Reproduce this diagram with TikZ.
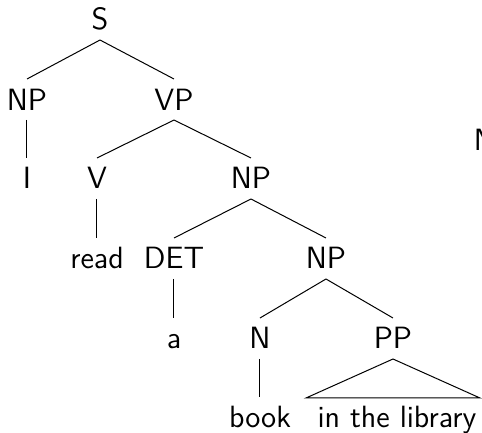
\documentclass[tikz,border=0pt]{standalone}
\usepackage{tikz}
\usetikzlibrary{positioning}

\begin{document}
\begin{tikzpicture}[x=0.4pt, y=-0.4pt,
    cat/.style={font=\fontsize{12.3}{14.5}\selectfont\sffamily, inner sep=0pt, anchor=base,
                text height=8.4pt, text depth=0pt, outer xsep=0pt, outer ysep=4pt}]
    \useasboundingbox (0,0) rectangle (482,433);

    % 1. Các nút của cây (tọa độ theo đường chân chữ)
    \node[cat] (s)   at (100,30)  {S};
    \node[cat] (np1) at (27,110)  {NP};
    \node[cat] (vp)  at (174,110) {VP};
    \node[cat] (i)   at (27,189)  {I};
    \node[cat] (v)   at (97,189)  {V};
    \node[cat] (np2) at (251,189) {NP};
    \node[cat] (rd)  at (97,269)  {read};
    \node[cat] (det) at (174,269) {DET};
    \node[cat] (np3) at (326,269) {NP};
    \node[cat] (a)   at (174,349) {a};
    \node[cat] (n)   at (260,349) {N};
    \node[cat] (pp)  at (393,349) {PP};
    \node[cat] (bk)  at (260,428) {book};
    \node[cat] (lib) at (397,428) {in the library};
    % Nút bị cắt ở mép phải
    \node[cat, anchor=base west] (nx) at (474,151) {N};

    % 2. Các nhánh
    \draw (s.south) -- (np1.north);
    \draw (s.south) -- (vp.north);
    \draw (np1.south) -- (i.north);
    \draw (vp.south) -- (v.north);
    \draw (vp.south) -- (np2.north);
    \draw (v.south) -- (rd.north);
    \draw (np2.south) -- (det.north);
    \draw (np2.south) -- (np3.north);
    \draw (det.south) -- (a.north);
    \draw (np3.south) -- (n.north);
    \draw (np3.south) -- (pp.north);
    \draw (n.south) -- (bk.north);

    % 3. Tam giác rút gọn cho PP
    \coordinate (ppl) at (306,398);
    \coordinate (ppr) at (480,398);
    \draw (pp.south) -- (ppl) -- (ppr) -- cycle;

\end{tikzpicture}
\end{document}
